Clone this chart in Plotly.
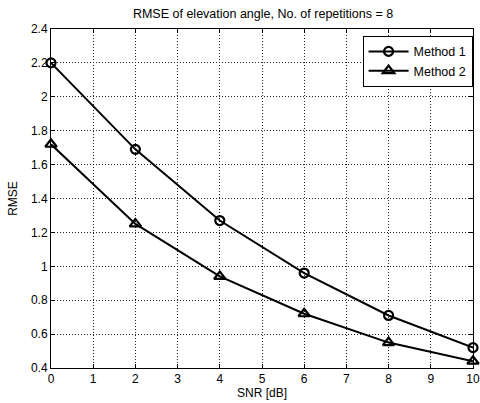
import plotly.graph_objects as go

snr = [0, 2, 4, 6, 8, 10]
method1 = [2.2, 1.69, 1.27, 0.96, 0.71, 0.52]
method2 = [1.72, 1.25, 0.94, 0.72, 0.55, 0.44]
x_ticks = list(range(0, 11))
y_ticks = [0.4, 0.6, 0.8, 1.0, 1.2, 1.4, 1.6, 1.8, 2.0, 2.2, 2.4]
y_tick_text = ["0.4", "0.6", "0.8", "1", "1.2", "1.4", "1.6", "1.8", "2", "2.2", "2.4"]

font = "Liberation Sans, Arial, Helvetica, sans-serif"

fig = go.Figure()
fig.add_trace(go.Scatter(
    x=snr, y=method1, name="Method 1", mode="lines+markers",
    line=dict(color="black", width=2),
    marker=dict(symbol="circle-open", size=9, color="black", line=dict(width=2.2)),
    cliponaxis=False,
))
fig.add_trace(go.Scatter(
    x=snr, y=method2, name="Method 2", mode="lines+markers",
    line=dict(color="black", width=2),
    marker=dict(symbol="triangle-up-open", size=10, color="black", line=dict(width=2.2)),
    cliponaxis=False,
))

axis_common = dict(
    showline=True, linecolor="black", linewidth=1, mirror="ticks",
    ticks="inside", ticklen=4, tickcolor="black",
    showgrid=True, gridcolor="#222222", gridwidth=1, griddash="1px,2px",
    zeroline=False, tickfont=dict(family=font, size=12, color="black"),
    automargin=False, ticklabeloverflow="allow",
)

fig.update_xaxes(range=[0, 10], tickvals=x_ticks,
                 title=dict(text="SNR [dB]", font=dict(family=font, size=12, color="black"), standoff=2),
                 **axis_common)
fig.update_yaxes(range=[0.4, 2.4], tickvals=y_ticks, ticktext=y_tick_text,
                 title=dict(text="RMSE", font=dict(family=font, size=12, color="black"), standoff=10),
                 **axis_common)

fig.update_layout(
    width=480, height=403,
    margin=dict(l=51, r=7, t=29, b=35),
    paper_bgcolor="white", plot_bgcolor="white",
    title=dict(text="RMSE of elevation angle, No. of repetitions = 8", x=0.548, xanchor="center",
               y=0.965, yanchor="middle",
               font=dict(family=font, size=12.5, color="black")),
    legend=dict(x=0.999, y=0.98, xanchor="right", yanchor="top", bgcolor="white",
                bordercolor="black", borderwidth=1, font=dict(family=font, size=12.5, color="black"),
                tracegroupgap=0, itemwidth=40),
    showlegend=True,
)

fig.write_html("out.html", config={"displayModeBar": False},
               post_script="document.body.style.margin='0';document.body.style.padding='0';")
